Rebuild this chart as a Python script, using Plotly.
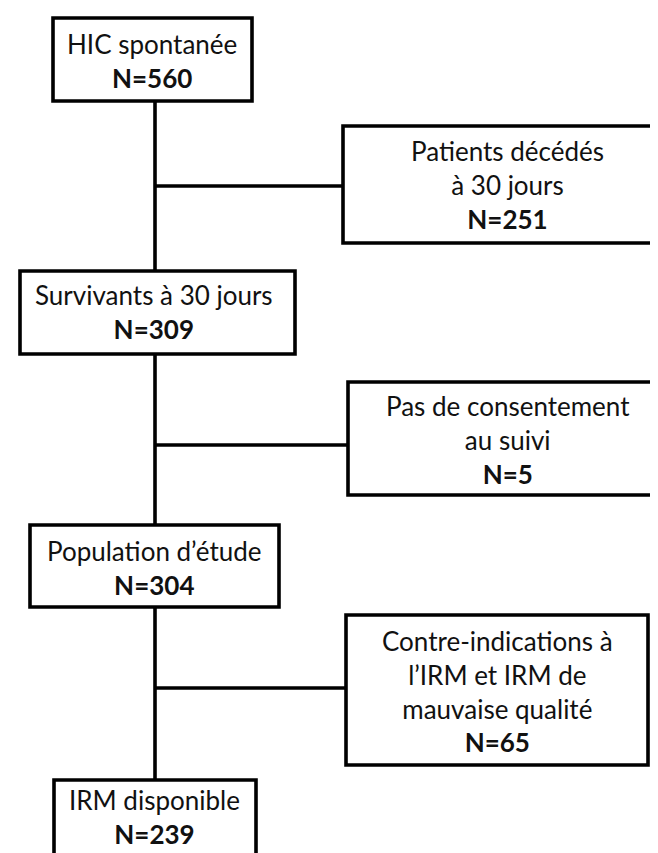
import plotly.graph_objects as go

# ---- data ----
box_labels = [
    "HIC spontanée",
    "Patients décédés<br>à 30 jours",
    "Survivants à 30 jours",
    "Pas de consentement<br>au suivi",
    "Population d’étude",
    "Contre-indications à<br>l’IRM et IRM de<br>mauvaise qualité",
    "IRM disponible",
]
box_n = [560, 251, 309, 5, 304, 65, 239]

# ---- layout geometry (pixels, y downward) ----
box_x0 = [45, 335, 12, 340, 22, 338, 46]
box_x1 = [244, 690, 287, 690, 271, 640, 248]
box_y0 = [10, 118, 263, 374, 517, 607, 772]
box_y1 = [93, 235, 346, 487, 599, 757, 890]
text_x = [144, 499, 146, 500, 146, 489, 146]
text_y = [53, 177, 304, 432, 560, 683, 809]

trunk_x = 147
branch_y = [178, 437, 680]
branch_x1 = [335, 340, 338]

W, H = 658, 853
LW = 3.6

fig = go.Figure()

# vertical trunk segments between main boxes
main_idx = [0, 2, 4, 6]
for a, b in zip(main_idx[:-1], main_idx[1:]):
    fig.add_trace(go.Scatter(x=[trunk_x, trunk_x], y=[box_y1[a], box_y0[b]],
                             mode="lines", line=dict(color="black", width=LW),
                             hoverinfo="skip", showlegend=False))
# horizontal branches
for yb, xb in zip(branch_y, branch_x1):
    fig.add_trace(go.Scatter(x=[trunk_x, xb], y=[yb, yb],
                             mode="lines", line=dict(color="black", width=LW),
                             hoverinfo="skip", showlegend=False))

for i, (lab, n) in enumerate(zip(box_labels, box_n)):
    fig.add_shape(type="rect", xref="x", yref="y",
                  x0=box_x0[i], x1=box_x1[i], y0=box_y0[i], y1=box_y1[i],
                  line=dict(color="black", width=LW), fillcolor="white", layer="above")
    fig.add_annotation(x=text_x[i], y=text_y[i], xref="x", yref="y",
                       text=f"{lab}<br><b>N={n}</b>", showarrow=False,
                       xanchor="center", yanchor="middle", align="center",
                       font=dict(family="Lato", size=26, color="#111111"))

fig.update_layout(
    width=W, height=H,
    margin=dict(l=0, r=0, t=0, b=0),
    paper_bgcolor="white", plot_bgcolor="white",
    xaxis=dict(range=[0, W], visible=False, fixedrange=True),
    yaxis=dict(range=[H, 0], visible=False, fixedrange=True),
    showlegend=False,
)

fig.write_html("out.html")
